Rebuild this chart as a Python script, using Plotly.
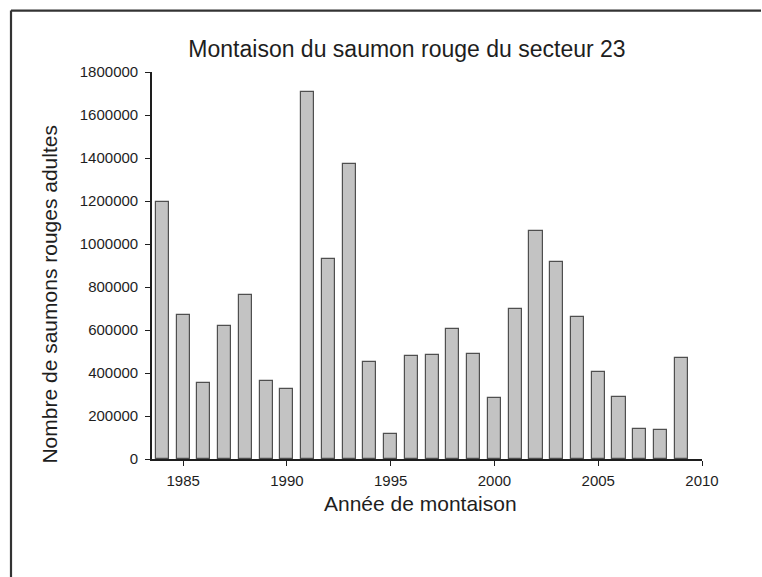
import plotly.graph_objects as go

# Montaison du saumon rouge, secteur 23
annees = [1984, 1985, 1986, 1987, 1988, 1989, 1990, 1991, 1992, 1993, 1994, 1995, 1996,
          1997, 1998, 1999, 2000, 2001, 2002, 2003, 2004, 2005, 2006, 2007, 2008, 2009]
saumons = [1197000, 672000, 354000, 618000, 762000, 365000, 324000, 1709000, 932000, 1372000,
           452000, 117000, 480000, 485000, 606000, 489000, 283000, 699000, 1061000, 918000,
           661000, 407000, 287000, 140000, 134000, 469000]

x_ticks = [1985, 1990, 1995, 2000, 2005, 2010]
y_ticks = [0, 200000, 400000, 600000, 800000, 1000000, 1200000, 1400000, 1600000, 1800000]

FONT = "Liberation Sans, Arial, sans-serif"
INK = "#1e1e1e"

bars = go.Bar(
    x=annees,
    y=saumons,
    width=0.63,
    marker=dict(color="#c3c3c3", line=dict(color="#4f4f4f", width=1.2)),
    showlegend=False,
)

fig = go.Figure(data=[bars])

fig.update_layout(
    width=762, height=577,
    margin=dict(l=152, r=60, t=72, b=118),
    paper_bgcolor="white",
    plot_bgcolor="white",
    font=dict(family=FONT, color=INK),
    title=dict(
        text="Montaison du saumon rouge du secteur 23",
        font=dict(size=23, family=FONT, color=INK),
        x=407 / 762, xanchor="center",
        y=1 - 49 / 577, yanchor="middle",
        xref="container", yref="container",
    ),
    bargap=0,
)

fig.update_xaxes(
    range=[1983.5, 2010],
    tickvals=x_ticks,
    ticktext=[str(v) for v in x_ticks],
    showgrid=False, zeroline=False,
    showline=True, linecolor=INK, linewidth=1.6,
    ticks="outside", ticklen=5, tickwidth=1.4, tickcolor=INK,
    tickfont=dict(size=15, family=FONT, color=INK),
    ticklabelstandoff=2,
)

fig.update_yaxes(
    range=[0, 1800000],
    tickvals=y_ticks,
    ticktext=[str(v) for v in y_ticks],
    showgrid=False, zeroline=False,
    showline=True, linecolor=INK, linewidth=1.6,
    ticks="outside", ticklen=5, tickwidth=1.4, tickcolor=INK,
    tickfont=dict(size=15, family=FONT, color=INK),
    ticklabelstandoff=4,
)

# axis titles as annotations for exact placement
fig.add_annotation(
    text="Année de montaison",
    xref="paper", yref="paper",
    x=(420 - 152) / 550, y=(458.7 - 503) / 386.4,
    xanchor="center", yanchor="middle",
    showarrow=False, font=dict(size=21, family=FONT, color=INK),
)
fig.add_annotation(
    text="Nombre de saumons rouges adultes",
    xref="paper", yref="paper",
    x=(50 - 152) / 550, y=(458.7 - 294.5) / 386.4,
    xanchor="center", yanchor="middle", textangle=-90,
    showarrow=False, font=dict(size=21, family=FONT, color=INK),
)

# outer frame: only the top and left edges show
frame_left = (11 - 152) / 550
frame_top = (458.7 - 11) / 386.4
for x0, y0, x1, y1 in [(frame_left, frame_top, (761 - 152) / 550, frame_top),
                       (frame_left, frame_top, frame_left, (458.7 - 577) / 386.4)]:
    fig.add_shape(
        type="line", xref="paper", yref="paper",
        x0=x0, y0=y0, x1=x1, y1=y1,
        line=dict(color="#333333", width=2.2),
        layer="below",
    )

# drop the browser's default body margin (and scrollbars) so the figure sits at the page corner
fig.write_html(
    "out.html",
    config={"displayModeBar": False},
    post_script="document.body.style.margin='0';document.body.style.overflow='hidden';",
)
